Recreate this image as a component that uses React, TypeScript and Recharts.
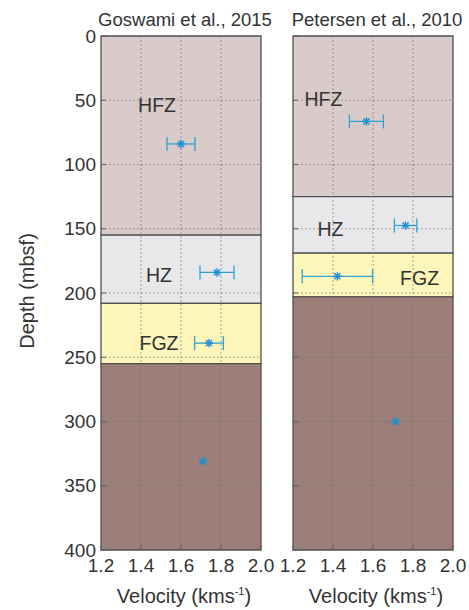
import React from 'react';
import {
  ScatterChart, Scatter, XAxis, YAxis, ReferenceArea, ReferenceLine, ErrorBar,
} from 'recharts';

// ---- data ----
const xTicks = [1.2, 1.4, 1.6, 1.8, 2.0];
const yTicks = [0, 50, 100, 150, 200, 250, 300, 350, 400];
const zoneNames = ['HFZ', 'HZ', 'FGZ', 'Base'];

// Goswami et al., 2015
const goswamiBounds = [0, 155, 208, 255, 400];
const goswamiVel = [1.6, 1.78, 1.74, 1.71];
const goswamiDepth = [84, 184, 239, 331];
const goswamiErr = [0.07, 0.085, 0.072, null];
const goswamiLabelVel = [1.48, 1.49, 1.49];
const goswamiLabelDepth = [54, 186, 239];

// Petersen et al., 2010
const petersenBounds = [0, 125, 169, 203, 400];
const petersenVel = [1.567, 1.763, 1.422, 1.712];
const petersenDepth = [66.5, 147.5, 187, 300];
const petersenErr = [0.085, 0.056, 0.176, null];
const petersenLabelVel = [1.352, 1.387, 1.833];
const petersenLabelDepth = [49, 150, 188];

// ---- styles ----
const zoneColors: Record<string, string> = {
  HFZ: '#dacbcb',
  HZ: '#e8e8eb',
  FGZ: '#fdf5b9',
  Base: '#9c7f78',
};
const FONT = '"Liberation Sans", Arial, Helvetica, sans-serif';
const TEXT = '#333333';
const MARK = '#1a8fd0';
const ERR = '#2da3d2';
const GRID = '#707070';

const Asterisk = (props: any) => {
  const { cx, cy } = props;
  const r = 4.2;
  const d = r * 0.72;
  return (
    <g stroke={MARK} strokeWidth={1.4}>
      <line x1={cx - r} y1={cy} x2={cx + r} y2={cy} />
      <line x1={cx} y1={cy - r} x2={cx} y2={cy + r} />
      <line x1={cx - d} y1={cy - d} x2={cx + d} y2={cy + d} />
      <line x1={cx - d} y1={cy + d} x2={cx + d} y2={cy - d} />
    </g>
  );
};

const ZoneLabel = (props: any) => {
  const { cx, cy, payload } = props;
  return (
    <text x={cx} y={cy} textAnchor="middle" dominantBaseline="central"
      fontSize={19.5} fontFamily={FONT} fill={TEXT}>
      {payload.name}
    </text>
  );
};

const VelocityLabel = (props: any) => {
  const vb = props.viewBox || {};
  const x = vb.x + vb.width / 2 + 3;
  return (
    <text x={x} y={603} textAnchor="middle" fontSize={20} fontFamily={FONT} fill={TEXT}>
      Velocity (kms<tspan fontSize={11} dy={-8}>-1</tspan><tspan dy={8}>)</tspan>
    </text>
  );
};

const DepthLabel = (props: any) => {
  const vb = props.viewBox || {};
  const cy = vb.y + vb.height / 2 - 2;
  return (
    <text x={27} y={cy} transform={`rotate(-90 27 ${cy})`} textAnchor="middle"
      dominantBaseline="central" fontSize={20} fontFamily={FONT} fill={TEXT}>
      Depth (mbsf)
    </text>
  );
};

type PanelProps = {
  title: string;
  bounds: number[];
  vel: number[];
  depth: number[];
  err: (number | null)[];
  labelVel: number[];
  labelDepth: number[];
  left: number;
  width: number;
  yAxisWidth: number;
  marginRight: number;
  showYLabels: boolean;
};

const Panel = (p: PanelProps) => {
  const points = p.vel.map((v, i) => ({ v, d: p.depth[i], e: p.err[i] }));
  const labels = p.labelVel.map((v, i) => ({ v, d: p.labelDepth[i], name: zoneNames[i] }));
  const plotLeft = p.left + p.yAxisWidth;
  const plotW = p.width - p.yAxisWidth - p.marginRight;
  return (
    <>
      <div style={{
        position: 'absolute', left: plotLeft + plotW / 2 - 150 + 4, top: 10, width: 300,
        textAlign: 'center', fontFamily: FONT, fontSize: 18.5, lineHeight: '20px', color: TEXT,
        whiteSpace: 'nowrap',
      }}>{p.title}</div>
      <div style={{ position: 'absolute', left: p.left, top: 0 }}>
        <ScatterChart width={p.width} height={610}
          margin={{ top: 36, right: p.marginRight, bottom: 0, left: 0 }}>
          {zoneNames.map((z, i) => (
            <ReferenceArea key={z} x1={1.2} x2={2.0} y1={p.bounds[i]} y2={p.bounds[i + 1]}
              fill={zoneColors[z]} fillOpacity={1} stroke="#505050" strokeWidth={1.3}
              ifOverflow="visible" />
          ))}
          {xTicks.slice(1, -1).map((t) => (
            <ReferenceLine key={'gx' + t} x={t} stroke={GRID} strokeOpacity={0.6}
              strokeWidth={1} strokeDasharray="2 2" />
          ))}
          {yTicks.slice(1, -1).map((t) => (
            <ReferenceLine key={'gy' + t} y={t} stroke={GRID} strokeOpacity={0.6}
              strokeWidth={1} strokeDasharray="2 2" />
          ))}
          <XAxis type="number" dataKey="v" domain={[1.2, 2.0]} ticks={xTicks} interval={0}
            allowDataOverflow tickFormatter={(v: number) => v.toFixed(1)} height={60}
            tickSize={-5} tickMargin={14} axisLine={false} stroke="#606060"
            tick={{ fontSize: 19, fontFamily: FONT, fill: TEXT }}
            label={{ content: VelocityLabel }} />
          <YAxis type="number" dataKey="d" domain={[0, 400]} reversed ticks={yTicks}
            interval={0} allowDataOverflow width={p.yAxisWidth} tickSize={-5}
            tickMargin={10} axisLine={false} stroke="#606060"
            tick={p.showYLabels ? { fontSize: 19, fontFamily: FONT, fill: TEXT } : () => <g />}
            label={p.showYLabels ? { content: DepthLabel } : undefined} />
          <Scatter data={labels} shape={ZoneLabel} isAnimationActive={false} />
          <Scatter data={points} shape={Asterisk} isAnimationActive={false}>
            <ErrorBar dataKey="e" direction="x" width={7} stroke={ERR} strokeWidth={1.3} />
          </Scatter>
        </ScatterChart>
      </div>
    </>
  );
};

export default function App() {
  return (
    <div style={{ position: 'absolute', left: 0, top: 0, width: 469, height: 610, background: '#fff' }}>
      <Panel title="Goswami et al., 2015" bounds={goswamiBounds} vel={goswamiVel}
        depth={goswamiDepth} err={goswamiErr} labelVel={goswamiLabelVel}
        labelDepth={goswamiLabelDepth} left={0} width={280} yAxisWidth={101}
        marginRight={19} showYLabels />
      <Panel title="Petersen et al., 2010" bounds={petersenBounds} vel={petersenVel}
        depth={petersenDepth} err={petersenErr} labelVel={petersenLabelVel}
        labelDepth={petersenLabelDepth} left={270} width={199} yAxisWidth={23}
        marginRight={16} showYLabels={false} />
    </div>
  );
}
